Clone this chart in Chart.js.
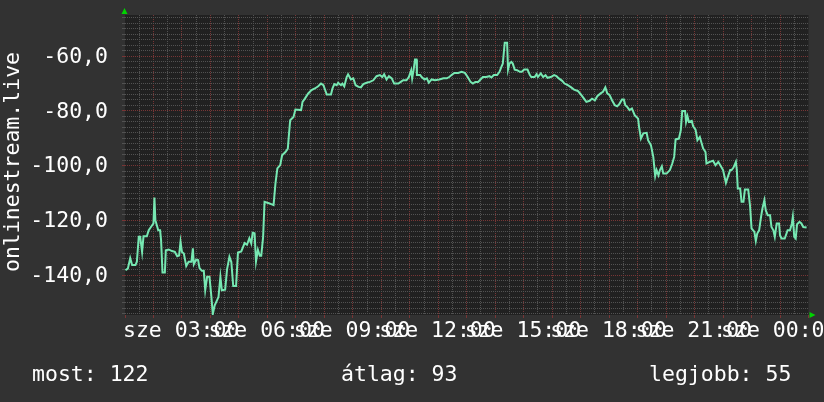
<!DOCTYPE html>
<html lang="hu">
<head>
  <meta charset="UTF-8" />
  <title>onlinestream.live</title>
  <script src="https://cdn.jsdelivr.net/npm/chart.js"></script>
  <style>
    html, body { margin: 0; padding: 0; background: #323232; overflow: hidden; }
    canvas { display: block; }
  </style>
</head>
<body>

<canvas id="rankChart" width="824" height="402"></canvas>

<script>
  // minutes since the start of the 24h window
  const minutes = [
    1, 6, 11, 15, 22, 25, 29, 32, 36, 39, 46, 50, 55, 60, 62, 64, 70, 74, 76, 79,
    84, 86, 92, 99, 105, 110, 114, 117, 120, 124, 129, 134, 140, 143, 145, 150, 154, 157, 162, 166,
    169, 173, 178, 182, 185, 189, 194, 197, 201, 204, 211, 215, 220, 224, 228, 234, 238, 245, 252, 257,
    262, 266, 269, 273, 276, 280, 284, 287, 291, 294, 303, 313, 317, 321, 327, 331, 338, 343, 345, 348,
    355, 359, 371, 374, 379, 386, 393, 400, 407, 413, 418, 423, 425, 434, 437, 441, 446, 449, 455, 458,
    462, 467, 470, 476, 481, 486, 492, 497, 502, 509, 516, 523, 530, 537, 542, 546, 551, 556, 562, 567,
    576, 581, 586, 593, 598, 603, 605, 608, 611, 614, 615, 622, 625, 631, 636, 640, 646, 653, 662, 671,
    678, 683, 688, 694, 702, 709, 716, 722, 728, 733, 738, 744, 749, 754, 761, 768, 772, 777, 784, 789,
    793, 796, 800, 805, 807, 810, 814, 817, 821, 826, 832, 836, 841, 848, 853, 856, 863, 867, 870, 876,
    881, 886, 890, 897, 904, 909, 914, 921, 926, 933, 940, 946, 954, 960, 967, 972, 979, 984, 990, 995,
    1002, 1007, 1012, 1016, 1021, 1026, 1032, 1037, 1042, 1047, 1051, 1054, 1058, 1063, 1068, 1074, 1081, 1083, 1087, 1092,
    1099, 1102, 1108, 1113, 1117, 1120, 1124, 1127, 1131, 1134, 1141, 1148, 1153, 1157, 1160, 1167, 1171, 1174, 1180, 1182,
    1185, 1188, 1194, 1197, 1202, 1206, 1211, 1215, 1218, 1223, 1225, 1232, 1239, 1244, 1250, 1256, 1260, 1266, 1270, 1275,
    1278, 1282, 1287, 1289, 1291, 1296, 1299, 1303, 1306, 1313, 1317, 1320, 1326, 1329, 1332, 1336, 1340, 1343, 1347, 1350,
    1354, 1359, 1362, 1366, 1369, 1373, 1378, 1380, 1383, 1390, 1396, 1401, 1405, 1407, 1410, 1413, 1416, 1421, 1425, 1429,
    1436
  ];

  // ranking (negated, so better is higher)
  const rank = [
    -138.2, -137.6, -133.8, -136.3, -136.3, -135.1, -126.0, -126.0, -131.5, -125.8, -125.8, -123.6, -122.3, -121.1, -111.6, -119.9, -123.6, -123.6, -127.2, -139.0,
    -139.0, -130.9, -130.6, -131.2, -131.5, -133.1, -132.8, -127.8, -131.5, -132.1, -136.7, -135.1, -135.1, -130.2, -136.0, -134.3, -134.5, -137.4, -138.4, -138.4,
    -145.5, -140.6, -140.6, -147.9, -154.2, -151.0, -149.1, -147.9, -140.6, -145.5, -145.3, -137.9, -133.3, -135.2, -144.0, -144.0, -131.7, -131.3, -128.3, -128.9,
    -126.5, -128.4, -124.5, -124.7, -135.0, -130.7, -132.9, -132.9, -126.0, -113.2, -113.7, -114.4, -106.5, -101.0, -99.8, -96.2, -95.0, -93.8, -89.5, -83.4,
    -82.2, -79.5, -79.7, -76.7, -75.5, -73.6, -72.4, -71.8, -71.0, -70.0, -70.6, -73.0, -74.0, -74.0, -71.8, -70.2, -70.6, -69.7, -70.6, -70.0,
    -71.0, -67.6, -66.6, -68.5, -68.1, -70.6, -71.2, -71.4, -70.2, -69.7, -69.4, -68.8, -67.3, -66.9, -67.6, -66.6, -68.5, -67.3, -68.1, -70.0,
    -70.0, -69.4, -68.8, -68.8, -67.6, -65.1, -68.1, -65.1, -61.2, -61.2, -66.9, -66.9, -67.6, -68.5, -68.1, -69.7, -68.5, -68.8, -68.5, -68.1,
    -68.1, -67.6, -66.9, -66.1, -66.1, -65.7, -66.1, -67.6, -69.4, -70.0, -69.4, -69.4, -68.5, -67.6, -67.6, -67.3, -67.8, -66.9, -66.9, -65.7,
    -63.9, -62.7, -55.1, -55.1, -64.9, -62.7, -62.1, -62.7, -64.9, -65.1, -65.7, -65.7, -64.9, -64.9, -66.9, -67.6, -67.6, -66.6, -67.6, -66.3,
    -67.6, -66.9, -67.9, -67.6, -66.9, -67.3, -68.1, -69.0, -70.0, -70.6, -71.4, -72.2, -72.7, -73.9, -75.5, -76.7, -76.3, -75.5, -76.1, -74.6,
    -73.6, -73.0, -71.4, -73.6, -74.2, -76.1, -77.9, -78.3, -77.3, -75.8, -75.8, -77.9, -78.5, -79.7, -79.1, -81.6, -82.8, -85.8, -90.1, -88.2,
    -88.0, -90.7, -92.5, -96.8, -103.8, -101.6, -103.5, -101.6, -100.2, -102.9, -102.9, -101.6, -99.2, -96.8, -90.4, -90.1, -87.0, -80.0, -80.0, -84.0,
    -81.9, -84.0, -83.6, -85.6, -86.8, -90.7, -89.5, -91.9, -93.7, -95.0, -99.2, -98.6, -98.2, -99.8, -98.6, -100.4, -101.6, -106.3, -104.1, -101.6,
    -101.6, -100.7, -98.6, -101.6, -108.3, -108.3, -113.2, -113.2, -108.7, -108.7, -115.0, -122.9, -124.2, -127.5, -124.8, -123.6, -118.7, -115.6, -112.6, -116.3,
    -118.1, -118.1, -122.4, -123.6, -126.0, -121.1, -121.1, -125.4, -126.6, -126.6, -123.6, -123.6, -121.1, -118.7, -126.0, -126.6, -121.4, -120.5, -121.1, -122.4,
    -122.6
  ];

  const yLabelValues = [-60, -80, -100, -120, -140];
  const xLabelHours = [3, 6, 9, 12, 15, 18, 21, 24];
  const dayName = 'sze';
  const yTitle = 'onlinestream.live';
  const legendTexts = ['most: 122', 'átlag: 93', 'legjobb: 55'];
  const legendX = [32, 341, 649];

  const FONT = '21.5px "DejaVu Sans Mono", monospace';
  const MINOR = '#525252';
  const MAJOR = '#783535';

  const pad2 = n => (n < 10 ? '0' : '') + n;

  const rrdFrame = {
    id: 'rrdFrame',
    beforeDraw(chart) {
      const { ctx, chartArea: a } = chart;
      ctx.save();
      ctx.fillStyle = '#323232';
      ctx.fillRect(0, 0, chart.width, chart.height);
      ctx.fillStyle = '#212121';
      ctx.fillRect(a.left, a.top, a.right - a.left, a.bottom - a.top);
      ctx.restore();
    },
    afterDraw(chart) {
      const { ctx, chartArea: a } = chart;
      const xs = chart.scales.x, ys = chart.scales.y;
      ctx.save();
      ctx.fillStyle = '#ffffff';
      ctx.font = FONT;

      // y labels
      ctx.textAlign = 'right';
      ctx.textBaseline = 'middle';
      yLabelValues.forEach(v => {
        ctx.fillText(v.toFixed(1).replace('.', ','), 108, ys.getPixelForValue(v) + 1);
      });

      // x labels (rrdtool style, they overlap)
      ctx.textAlign = 'left';
      xLabelHours.forEach(h => {
        ctx.fillText(dayName + ' ' + pad2(h % 24) + ':00', xs.getPixelForValue(h * 60) - 87.5, 331);
      });

      // y title
      ctx.save();
      ctx.translate(13, (a.top + a.bottom) / 2 - 3);
      ctx.rotate(-Math.PI / 2);
      ctx.textAlign = 'center';
      ctx.fillText(yTitle, 0, 0);
      ctx.restore();

      // legend line
      ctx.textAlign = 'left';
      legendTexts.forEach((t, i) => ctx.fillText(t, legendX[i], 375));

      // green arrows
      ctx.fillStyle = '#00d400';
      ctx.beginPath();
      ctx.moveTo(a.left - 3.5, a.top - 1);
      ctx.lineTo(a.left + 2.5, a.top - 1);
      ctx.lineTo(a.left - 0.5, a.top - 7);
      ctx.fill();
      ctx.beginPath();
      ctx.moveTo(a.right + 1, a.bottom - 3);
      ctx.lineTo(a.right + 1, a.bottom + 3);
      ctx.lineTo(a.right + 7, a.bottom);
      ctx.fill();
      ctx.restore();
    }
  };

  const ctx = document.getElementById('rankChart').getContext('2d');
  new Chart(ctx, {
    type: 'line',
    data: {
      datasets: [{
        data: minutes.map((m, i) => ({ x: m, y: rank[i] })),
        borderColor: '#76e8b2',
        borderWidth: 2,
        pointRadius: 0,
        tension: 0,
        fill: false
      }]
    },
    options: {
      responsive: false,
      animation: false,
      layout: { padding: { left: 0, right: 15.5, top: 15, bottom: 0 } },
      plugins: { legend: { display: false }, tooltip: { enabled: false } },
      scales: {
        x: {
          type: 'linear',
          min: 0,
          max: 1440,
          afterFit: s => { s.height = 87; },
          ticks: { display: false, stepSize: 30 },
          border: { display: false, dash: [1, 1] },
          grid: {
            color: c => (c.tick.value <= 0 || c.tick.value >= 1440) ? 'transparent' : (c.tick.value % 60 === 0 ? MAJOR : MINOR),
            tickColor: c => (c.tick.value % 60 === 0 ? MAJOR : 'transparent'),
            tickLength: 3,
            lineWidth: 1
          }
        },
        y: {
          min: -154.55,
          max: -44.95,
          afterFit: s => { s.width = 125; },
          ticks: { display: false, stepSize: 2, includeBounds: false },
          border: { display: false, dash: [1, 1] },
          grid: {
            color: c => (Math.abs(c.tick.value % 20) < 1e-6 ? MAJOR : MINOR),
            tickColor: c => (Math.abs(c.tick.value % 20) < 1e-6 ? MAJOR : MINOR),
            tickLength: 3,
            lineWidth: 1
          }
        }
      }
    },
    plugins: [rrdFrame]
  });
</script>

</body>
</html>
